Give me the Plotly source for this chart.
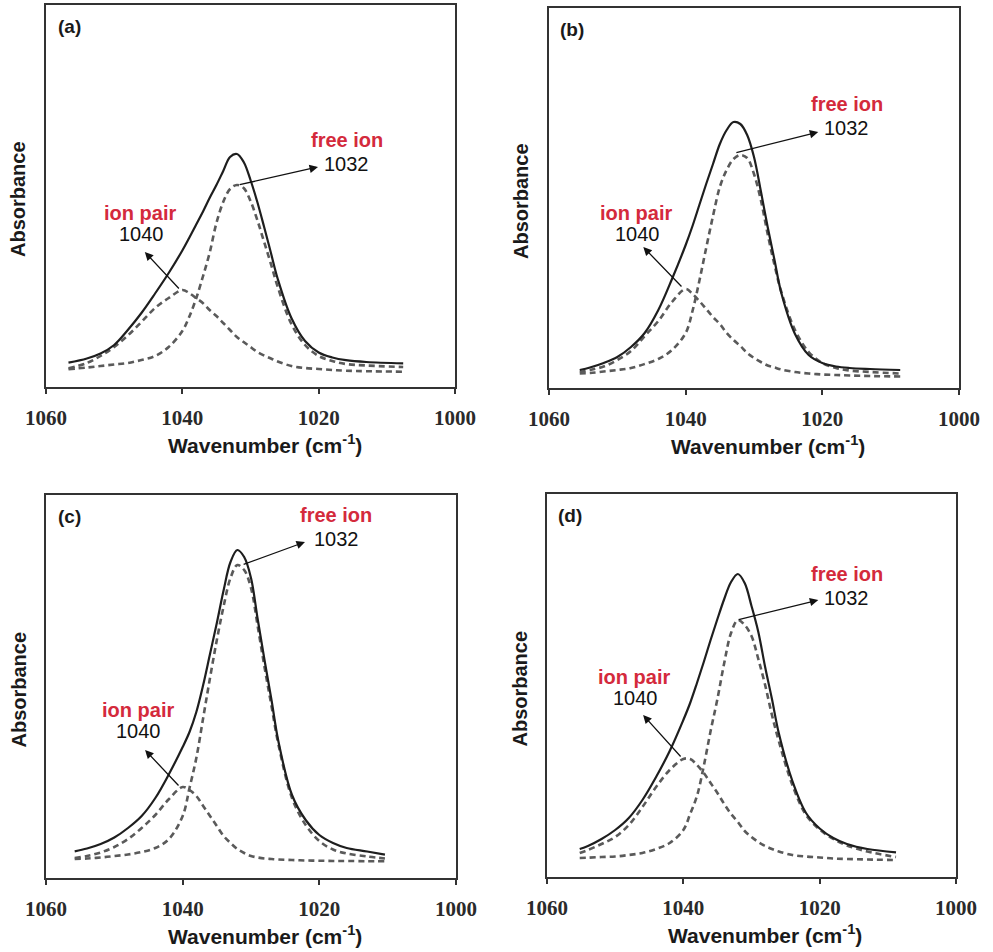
import plotly.graph_objects as go

# wavenumber grids (cm-1) and band heights (a.u.)
a_x = [1056.7, 1054, 1052, 1050, 1048, 1046, 1044, 1042, 1040, 1039, 1038, 1037, 1036, 1035, 1034,
       1033, 1032, 1031, 1030, 1029, 1028, 1027, 1026, 1024, 1022, 1020, 1018, 1016, 1013, 1007.6]
a_total = [24.3, 28.5, 33.5, 42, 57, 74, 93.5, 114, 136.5, 149, 162, 175, 189, 202, 216,
           230, 233, 225, 207, 185, 160, 134, 108, 69, 46, 34.5, 29.5, 26.8, 25, 23.7]
a_pair = [18.7, 24, 31, 40, 51.5, 65, 79, 89, 97, 94, 89, 84, 77, 71, 64,
          57, 50, 45, 40, 35, 31.5, 28.5, 25.5, 21, 19, 18, 17, 16.3, 15.8, 15.3]
a_free = [17.7, 19.5, 21, 22.5, 24, 27, 31, 40, 56, 70, 88, 110, 134, 164, 185,
          198, 202, 199, 186, 167, 145, 123, 100, 63, 42, 31, 26, 23, 21.5, 20]

b_x = [1055.5, 1054, 1052, 1050, 1048, 1046, 1044, 1042, 1040, 1039, 1038, 1037, 1036, 1035, 1034,
       1033, 1032, 1031, 1030, 1029, 1028, 1027, 1026, 1024, 1022, 1020, 1018, 1016, 1013, 1008.6]
b_total = [18, 20.5, 25, 31, 41, 55, 78, 109, 143, 162, 183, 204, 224, 244, 258,
           266, 264, 253, 231, 197, 161, 128, 95, 54, 33, 25, 21.5, 20, 19, 18]
b_pair = [16, 18, 21.5, 28, 37, 52, 67, 86, 99, 94, 87, 79, 71, 64, 55,
          48, 42, 35, 30, 26, 22.5, 20.5, 18.5, 16, 14.5, 13.5, 13, 12.5, 12, 11.5]
b_free = [14.5, 15, 16.5, 18, 20, 24, 29, 38, 55, 77, 107, 140, 172, 201, 218,
          229, 233, 230, 214, 188, 154, 123, 96, 58, 36, 25, 20, 17.5, 16, 14.5]

c_x = [1055.8, 1054, 1052, 1050, 1048, 1046, 1044, 1042, 1040, 1039, 1038, 1037, 1036, 1035, 1034,
       1033, 1032, 1031, 1030, 1029, 1028, 1027, 1026, 1024, 1022, 1020, 1018, 1016, 1013, 1010.4]
c_total = [26.7, 29.5, 34, 40.5, 50, 62, 80, 104, 131, 146, 166, 193, 224, 255, 288,
           316, 328, 321, 300, 258, 217, 178, 137, 83, 58, 43, 35, 30, 26.5, 23.3]
c_pair = [20, 22, 25.5, 31, 39, 50, 63, 79, 91, 88, 82, 72, 62, 52, 42,
          35, 29, 25, 22, 20.5, 19.5, 19, 18.5, 18, 17.5, 17.3, 17, 17, 16.8, 16.7]
c_free = [19, 19.5, 20.5, 22, 23.5, 26, 30, 39, 62, 90, 120, 160, 200, 238, 272,
          300, 313, 308, 290, 251, 210, 172, 134, 80, 53, 37, 28.5, 24.5, 21.5, 19.5]

d_x = [1055.2, 1054, 1052, 1050, 1048, 1046, 1044, 1042, 1040, 1039, 1038, 1037, 1036, 1035, 1034,
       1033, 1032, 1031, 1030, 1029, 1028, 1027, 1026, 1024, 1022, 1020, 1018, 1016, 1013, 1008.8]
d_total = [28, 31, 38, 47, 59, 77, 100, 126, 157, 174, 194, 215, 237, 258, 278,
           295, 303, 294, 271, 245, 210, 178, 144, 96, 64, 48.5, 39, 33, 28, 24.7]
d_pair = [24, 27, 33, 40, 52, 70, 90, 107, 118, 118, 112, 104, 94, 84, 73,
          63, 55, 46, 40, 35, 31, 28, 25.5, 22, 20.5, 19.5, 18.5, 18, 17.5, 17]
d_free = [19, 19.3, 20, 20.5, 22, 24, 28, 34, 47, 63, 81, 111, 146, 178, 214,
          244, 257, 252, 241, 218, 192, 162, 136, 92, 62, 47.5, 38, 31.5, 25.5, 20]

tick_vals = [1060, 1040, 1020, 1000]
panel_labels = ['(a)', '(b)', '(c)', '(d)']
peak_free = ['1032', '1032', '1032', '1032']
peak_pair = ['1040', '1040', '1040', '1040']

W, H = 993, 952
# plot frames in pixels: left, right, top, bottom
frames = [(46, 455, 5, 387), (549, 959, 8, 388), (46, 456, 495, 878), (547, 956, 494, 877)]
# label / arrow spots in data units: (free text x,y), (free arrow head), (free arrow tail),
# (pair text), (pair head), (pair tail)
spots = [
    dict(ft=(1015.9, 247), fh=(1020.1, 220), fa=(1031.8, 202), pt=(1046.2, 174), ph=(1045.5, 135), pa=(1040.3, 97)),
    dict(ft=(1016.4, 284), fh=(1020.6, 256), fa=(1032.8, 235), pt=(1047.2, 175), ph=(1046.2, 141), pa=(1040.4, 100)),
    dict(ft=(1017.5, 363), fh=(1022.1, 336), fa=(1031.3, 313), pt=(1046.6, 168), ph=(1045.5, 128), pa=(1040.4, 91)),
    dict(ft=(1016.0, 303), fh=(1020.2, 277), fa=(1032.1, 257), pt=(1047.2, 200), ph=(1045.9, 162), pa=(1040.2, 119)),
]
panels = [(a_x, a_total, a_pair, a_free), (b_x, b_total, b_pair, b_free),
          (c_x, c_total, c_pair, c_free), (d_x, d_total, d_pair, d_free)]

sans = 'Liberation Sans, Arial, sans-serif'
red = '#d42a3c'

fig = go.Figure()
annotations = []
for i, (xs, tot, pair, free) in enumerate(panels):
    n = '' if i == 0 else str(i + 1)
    xa, ya = 'x' + n, 'y' + n
    L, R, T, B = frames[i]
    ph = B - T
    for ys in (pair, free):
        fig.add_trace(go.Scatter(x=xs, y=ys, mode='lines', xaxis=xa, yaxis=ya, showlegend=False,
                                 line=dict(color='#5a5a5a', width=2.6, dash='6px,4px', shape='spline')))
    fig.add_trace(go.Scatter(x=xs, y=tot, mode='lines', xaxis=xa, yaxis=ya, showlegend=False,
                             line=dict(color='#1e1e1e', width=2.2, shape='spline')))

    fig.update_layout({
        'xaxis' + n: dict(domain=[L / W, R / W], anchor=ya, range=[1060, 1000], tickvals=tick_vals,
                          ticks='outside', ticklen=5, tickwidth=1.5, tickcolor='#333',
                          showline=True, mirror=True, linecolor='#333', linewidth=1.5,
                          showgrid=False, zeroline=False, ticklabelstandoff=6, automargin=False,
                          tickfont=dict(family='Liberation Serif, Times New Roman, serif', size=21,
                                        color='#2a2a2a', weight='bold')),
        'yaxis' + n: dict(domain=[1 - B / H, 1 - T / H], anchor=xa, range=[0, ph], automargin=False,
                          showticklabels=False, ticks='', showline=True, mirror=True,
                          linecolor='#333', linewidth=1.5, showgrid=False, zeroline=False),
    })

    s = spots[i]
    # axis titles and panel tag
    annotations.append(dict(x=(L + R) / 2 / W + 14 / W, y=1 - (B + 57) / H, xref='paper', yref='paper',
                            xanchor='center', yanchor='middle',
                            text='<b>Wavenumber (cm<sup>-1</sup>)</b>', showarrow=False,
                            font=dict(family=sans, size=21, color='#1a1a1a')))
    annotations.append(dict(x=(L - 28) / W, y=1 - ((T + B) / 2 + 3) / H, xref='paper', yref='paper',
                            xanchor='center', yanchor='middle',
                            text='<b>Absorbance</b>', textangle=-90, showarrow=False,
                            font=dict(family=sans, size=20, color='#1a1a1a')))
    annotations.append(dict(x=(L + 23) / W, y=1 - (T + 21) / H, xref='paper', yref='paper',
                            xanchor='center', yanchor='middle',
                            text='<b>' + panel_labels[i] + '</b>', showarrow=False,
                            font=dict(family=sans, size=19, color='#1a1a1a')))
    # peak labels
    annotations.append(dict(x=s['ft'][0], y=s['ft'][1], xref=xa, yref=ya, text='<b>free ion</b>',
                            showarrow=False, font=dict(family=sans, size=20, color=red)))
    annotations.append(dict(x=s['ft'][0], y=s['ft'][1] - 24, xref=xa, yref=ya, text=peak_free[i],
                            showarrow=False, font=dict(family=sans, size=20, color='#111')))
    annotations.append(dict(x=s['pt'][0], y=s['pt'][1], xref=xa, yref=ya, text='<b>ion pair</b>',
                            showarrow=False, font=dict(family=sans, size=20, color=red)))
    annotations.append(dict(x=s['pt'][0] - 0.2, y=s['pt'][1] - 21, xref=xa, yref=ya, text=peak_pair[i],
                            showarrow=False, font=dict(family=sans, size=20, color='#111')))
    # arrows from band maxima to labels
    for head, tail in ((s['fh'], s['fa']), (s['ph'], s['pa'])):
        annotations.append(dict(x=head[0], y=head[1], ax=tail[0], ay=tail[1], xref=xa, yref=ya,
                                axref=xa, ayref=ya, text='', showarrow=True, arrowhead=2,
                                arrowsize=1.3, arrowwidth=1.3, arrowcolor='#111', standoff=0,
                                startstandoff=0))

fig.update_layout(width=W, height=H, margin=dict(l=0, r=0, t=0, b=0, autoexpand=False),
                  paper_bgcolor='white', plot_bgcolor='white', annotations=annotations)
# drop the browser's default body margin so the figure sits at the page corner
fig.write_html('out.html', config={'displayModeBar': False},
               post_script="document.body.style.margin='0px';")
